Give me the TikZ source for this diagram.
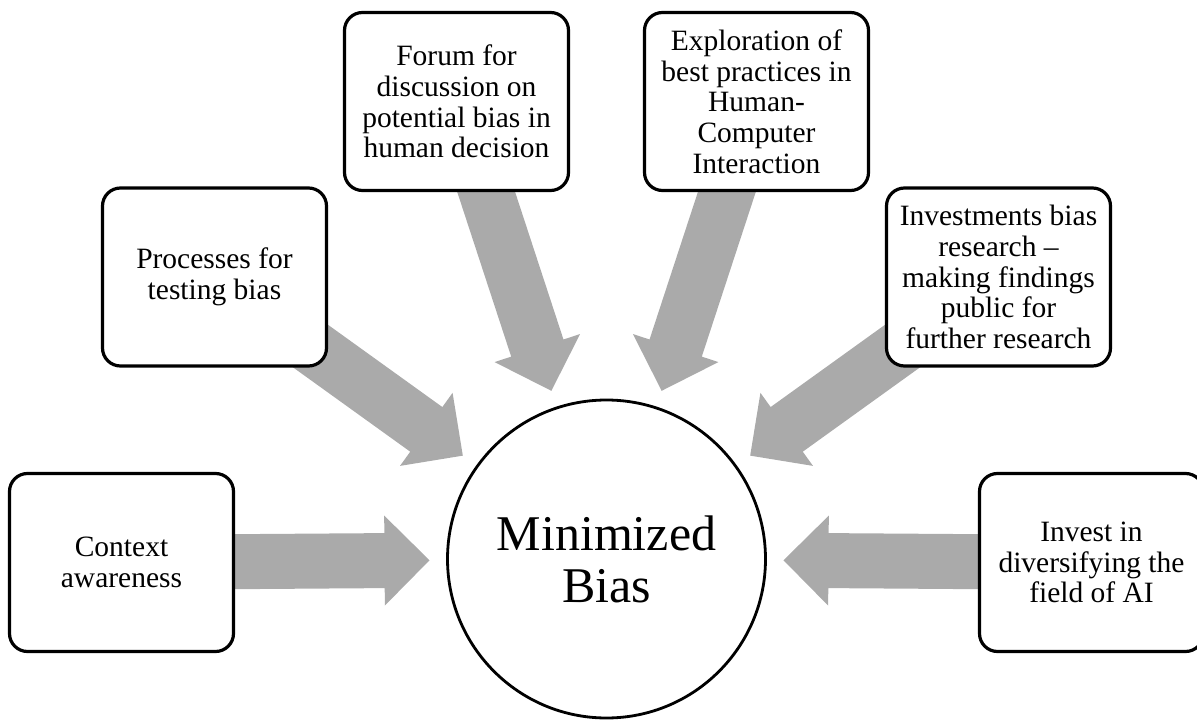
\documentclass[tikz,border=0pt]{standalone}
\usepackage{fontspec}
\setmainfont{Liberation Serif}
\usetikzlibrary{calc}
\pgfdeclarelayer{background}
\pgfsetlayers{background,main}
\definecolor{arrowgray}{RGB}{170,170,170}
\tikzset{
  idea/.style={draw=black, line width=3.2pt, rounded corners=18pt, fill=white,
    minimum width=224pt, minimum height=178pt, align=center, inner sep=0pt,
    font=\fontsize{29.5pt}{30.7pt}\selectfont},
  hubnode/.style={circle, draw=black, line width=2.8pt, fill=white,
    minimum size=318pt, inner sep=0pt, align=center,
    font=\fontsize{50pt}{52pt}\selectfont},
  flowarrow/.style={fill=arrowgray},
}
% broad block arrow from the centre of node #1 towards node #2,
% stopping a little short of the hub circle
\newcommand{\feedarrow}[2]{%
  \path (#1.center) coordinate (fa-t)
        ($(#2.center)!177pt!(#1.center)$) coordinate (fa-h)
        ($(fa-h)!45pt!(fa-t)$) coordinate (fa-b);
  \fill[flowarrow] ($(fa-t)!27.5pt!90:(fa-h)$) -- ($(fa-b)!27.5pt!-90:(fa-t)$)
    -- ($(fa-b)!45pt!-90:(fa-t)$) -- (fa-h) -- ($(fa-b)!45pt!90:(fa-t)$)
    -- ($(fa-b)!27.5pt!90:(fa-t)$) -- ($(fa-t)!27.5pt!-90:(fa-h)$) -- cycle;
}
\begin{document}
\begin{tikzpicture}[x=1pt,y=-1pt]
\useasboundingbox (0,0) rectangle (1197,722);

\node[hubnode] (hub) at (606.5,559) {Minimized\\Bias};

\node[idea] (ctx)    at (121.5,562.5) {Context\\awareness};
\node[idea] (test)   at (214.5,277)   {Processes for\\testing bias};
\node[idea] (forum)  at (456.5,101.5) {Forum for\\discussion on\\potential bias in\\human decision};
\node[idea] (hci)    at (756.5,101.5) {Exploration of\\best practices in\\Human-\\Computer\\Interaction};
\node[idea] (invres) at (998.5,277)   {Investments bias\\research –\\making findings\\public for\\further research};
\node[idea] (div)    at (1091.5,562.5) {Invest in\\diversifying the\\field of AI};

\begin{pgfonlayer}{background}
  \feedarrow{ctx}{hub}
  \feedarrow{test}{hub}
  \feedarrow{forum}{hub}
  \feedarrow{hci}{hub}
  \feedarrow{invres}{hub}
  \feedarrow{div}{hub}
\end{pgfonlayer}
\end{tikzpicture}
\end{document}
